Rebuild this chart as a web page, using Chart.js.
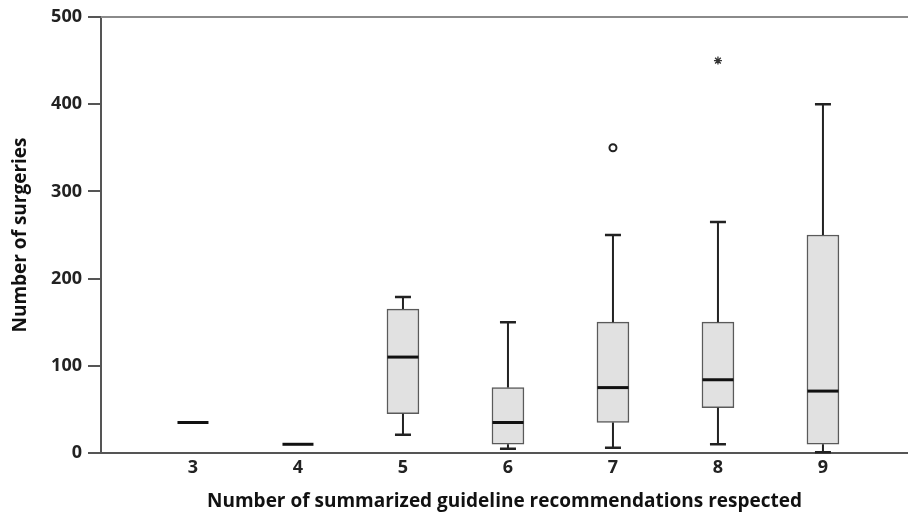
<!DOCTYPE html>
<html>
<head>
<meta charset="utf-8">
<script src="https://cdn.jsdelivr.net/npm/chart.js@4/dist/chart.umd.min.js"></script>
<style>
  html, body { margin: 0; padding: 0; background: #fff; }
  #wrap { width: 908px; height: 516px; position: relative; }
</style>
</head>
<body>
<div id="wrap"><canvas id="chart"></canvas></div>
<script>
// number of guideline recommendations respected
const categories = [3, 4, 5, 6, 7, 8, 9];
// box plot statistics (number of surgeries)
const lowWhisker = [35, 10, 21, 5, 6, 10, 1];
const q1 = [35, 10, 45, 10, 35, 52, 10];
const medians = [35, 10, 110, 35, 75, 84, 71];
const q3 = [35, 10, 165, 75, 150, 150, 250];
const highWhisker = [35, 10, 179, 150, 250, 265, 400];
// outliers (circle) and extremes (star)
const outlierCats = [7];
const outlierValues = [350];
const extremeCats = [8];
const extremeValues = [450];
const yTicks = [0, 100, 200, 300, 400, 500];

const font = { family: '"Open Sans", sans-serif', size: 18, weight: '700' };
const titleFont = { family: '"Open Sans", sans-serif', size: 19, weight: '700' };

const boxData = categories
  .map((c, i) => ({ x: c, y: [q1[i], q3[i]] }))
  .filter(d => d.y[1] > d.y[0]);

const whiskerPlugin = {
  id: 'whiskers',
  afterDatasetsDraw(chart) {
    const { ctx, scales: { x, y }, chartArea } = chart;
    ctx.save();
    // top frame line
    ctx.strokeStyle = '#8a8a8a';
    ctx.lineWidth = 2;
    ctx.beginPath();
    ctx.moveTo(chartArea.left, chartArea.top);
    ctx.lineTo(chartArea.right, chartArea.top);
    ctx.stroke();

    categories.forEach((c, i) => {
      const cx = x.getPixelForValue(c);
      // stems
      ctx.strokeStyle = '#222';
      ctx.lineWidth = 2;
      ctx.beginPath();
      ctx.moveTo(cx, y.getPixelForValue(highWhisker[i]));
      ctx.lineTo(cx, y.getPixelForValue(q3[i]));
      ctx.moveTo(cx, y.getPixelForValue(q1[i]));
      ctx.lineTo(cx, y.getPixelForValue(lowWhisker[i]));
      ctx.stroke();
      // caps
      if (highWhisker[i] > q3[i] || lowWhisker[i] < q1[i]) {
        ctx.lineWidth = 2.5;
        ctx.beginPath();
        ctx.moveTo(cx - 8, y.getPixelForValue(highWhisker[i]));
        ctx.lineTo(cx + 8, y.getPixelForValue(highWhisker[i]));
        ctx.moveTo(cx - 8, y.getPixelForValue(lowWhisker[i]));
        ctx.lineTo(cx + 8, y.getPixelForValue(lowWhisker[i]));
        ctx.stroke();
      }
      // median
      ctx.strokeStyle = '#111';
      ctx.lineWidth = 3;
      ctx.beginPath();
      ctx.moveTo(cx - 15.5, y.getPixelForValue(medians[i]));
      ctx.lineTo(cx + 15.5, y.getPixelForValue(medians[i]));
      ctx.stroke();
    });
    ctx.restore();
  }
};

new Chart(document.getElementById('chart'), {
  type: 'bar',
  data: {
    datasets: [
      {
        label: 'box',
        data: boxData,
        backgroundColor: '#e1e1e1',
        borderColor: '#5a5a5a',
        borderWidth: 1.5,
        borderSkipped: false,
        barThickness: 32,
        order: 2
      },
      {
        type: 'scatter',
        label: 'outlier',
        data: outlierCats.map((c, i) => ({ x: c, y: outlierValues[i] })),
        pointStyle: 'circle',
        radius: 3.5,
        borderWidth: 2,
        borderColor: '#222',
        backgroundColor: '#fff',
        order: 1
      },
      {
        type: 'scatter',
        label: 'extreme',
        data: extremeCats.map((c, i) => ({ x: c, y: extremeValues[i] })),
        pointStyle: 'star',
        radius: 4,
        borderWidth: 1.3,
        borderColor: '#333',
        order: 1
      }
    ]
  },
  options: {
    responsive: true,
    maintainAspectRatio: false,
    animation: false,
    layout: { autoPadding: false, padding: { top: 17, right: 0, left: 0, bottom: 0 } },
    plugins: { legend: { display: false }, tooltip: { enabled: false } },
    scales: {
      x: {
        type: 'linear',
        offset: false,
        min: 2.124,
        max: 9.81,
        afterBuildTicks: s => { s.ticks = categories.map(v => ({ value: v })); },
        afterFit: s => { s.height = 63; s.paddingLeft = 0; s.paddingRight = 0; },
        grid: { drawOnChartArea: false, drawTicks: false, offset: false },
        border: { color: '#555', width: 2 },
        ticks: { color: '#222', font, padding: 4 },
        title: {
          display: true,
          text: 'Number of summarized guideline recommendations respected',
          color: '#111',
          font: titleFont,
          padding: { top: 4, bottom: 3 }
        }
      },
      y: {
        min: 0,
        max: 500,
        afterBuildTicks: s => { s.ticks = yTicks.map(v => ({ value: v })); },
        afterFit: s => { s.width = 101; },
        grid: { drawOnChartArea: false, drawTicks: true, tickLength: 13, color: '#555', lineWidth: 2 },
        border: { color: '#555', width: 2 },
        ticks: { color: '#222', font, padding: 6 },
        title: {
          display: true,
          text: 'Number of surgeries',
          color: '#111',
          font: titleFont,
          padding: { top: 9, bottom: 0 }
        }
      }
    }
  },
  plugins: [whiskerPlugin]
});
</script>
</body>
</html>
